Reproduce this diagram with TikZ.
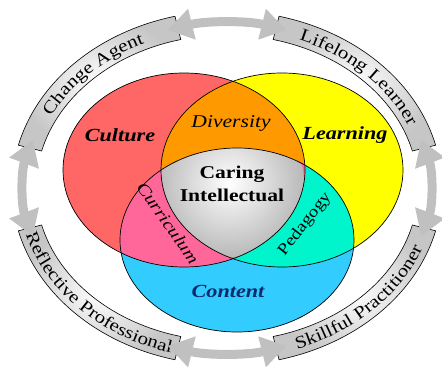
\documentclass[tikz,border=0pt]{standalone}
\usepackage{fontspec}
\setmainfont{Liberation Serif}
\newfontfamily\wide[FakeStretch=1.2]{Liberation Serif}
\usetikzlibrary{arrows.meta,decorations.text}

\definecolor{culture}{HTML}{FF6666}
\definecolor{learning}{HTML}{FFFF00}
\definecolor{content}{HTML}{33CCFF}
\definecolor{diversity}{HTML}{FF9900}
\definecolor{curriculum}{HTML}{FF6699}
\definecolor{pedagogy}{HTML}{00F5CC}
\definecolor{contentink}{HTML}{0B2A6B}
\definecolor{ringgray}{HTML}{C0C0C0}

\newcommand\bandfont{\wide\fontsize{17.5}{17.5}\selectfont}

\tikzset{
  lbl/.style={font=\wide\fontsize{18}{21}\selectfont, inner sep=0pt},
  band/.style={draw=black, line width=0.6pt, inner color=white, outer color=gray!45},
  ringarrow/.style={ringgray, line width=9pt,
    {Triangle[width=30pt,length=25pt]}-{Triangle[width=30pt,length=25pt]}},
  rim/.style={draw=black, line width=0.7pt},
}

\begin{document}
\begin{tikzpicture}[x=1pt,y=1pt]
    \useasboundingbox (0,0) rectangle (442,368);
    \coordinate (ring) at (227,180);
    \coordinate (cul) at (184,198);
    \coordinate (lea) at (282,198);
    \coordinate (con) at (237,128);

    % the three sets
    \fill[culture] (cul) ellipse [x radius=121pt, y radius=97pt];
    \fill[learning] (lea) ellipse [x radius=121pt, y radius=97pt];
    \fill[content] (con) ellipse [x radius=117pt, y radius=92pt];
    \begin{scope}
        \clip (lea) ellipse [x radius=121pt, y radius=97pt];
        \fill[pedagogy] (con) ellipse [x radius=117pt, y radius=92pt];
    \end{scope}
    \begin{scope}
        \clip (cul) ellipse [x radius=121pt, y radius=97pt];
        \fill[diversity] (lea) ellipse [x radius=121pt, y radius=97pt];
        \fill[curriculum] (con) ellipse [x radius=117pt, y radius=92pt];
        \clip (lea) ellipse [x radius=121pt, y radius=97pt];
        \clip (con) ellipse [x radius=117pt, y radius=92pt];
        \shade[inner color=white, outer color=gray!55] (230,185) circle (74pt);
    \end{scope}
    \draw[rim] (cul) ellipse [x radius=121pt, y radius=97pt];
    \draw[rim] (lea) ellipse [x radius=121pt, y radius=97pt];
    \draw[rim] (con) ellipse [x radius=117pt, y radius=92pt];

    \node[lbl, font=\wide\fontsize{18.5}{21}\selectfont\bfseries\itshape] (culture) at (120,233) {Culture};
    \node[lbl, font=\wide\fontsize{18.5}{21}\selectfont\bfseries\itshape] (learning) at (345,233) {Learning};
    \node[lbl, font=\wide\fontsize{18.5}{21}\selectfont\bfseries\itshape, text=contentink] (content) at (228,77) {Content};
    \node[lbl, font=\wide\fontsize{18}{21}\selectfont\itshape] (diversity) at (231,245) {Diversity};
    \node[lbl, font=\wide\fontsize{17}{21}\selectfont\itshape, rotate=-55] (curriculum) at (168,145) {Curriculum};
    \node[lbl, font=\wide\fontsize{16}{21}\selectfont, rotate=52] (pedagogy) at (305,144) {Pedagogy};
    \node[lbl, font=\wide\fontsize{18}{22.5}\selectfont\bfseries, align=center] (caring) at (232,184) {Caring\\Intellectual};

    % the ring of roles
    \foreach \a in {45, 135, 225, 315} {
        \shade[band] ([shift={(ring)}]\a+31:215pt and 177pt)
            arc[start angle=\a+31, end angle=\a-31, x radius=215pt, y radius=177pt]
            -- ([shift={(ring)}]\a-31:191pt and 153pt)
            arc[start angle=\a-31, end angle=\a+31, x radius=191pt, y radius=153pt] -- cycle;
    }
    \path[decorate, decoration={text along path, text align=center, text={|\bandfont|Change Agent}}]
        ([shift={(ring)}]166:197pt and 159pt) arc[start angle=166, end angle=104, x radius=197pt, y radius=159pt];
    \path[decorate, decoration={text along path, text align=center, text={|\bandfont|Lifelong Learner}}]
        ([shift={(ring)}]76:197pt and 159pt) arc[start angle=76, end angle=14, x radius=197pt, y radius=159pt];
    \path[decorate, decoration={text along path, text align=center, text={|\bandfont|Reflective Professional}}]
        ([shift={(ring)}]194:209pt and 171pt) arc[start angle=194, end angle=256, x radius=209pt, y radius=171pt];
    \path[decorate, decoration={text along path, text align=center, text={|\bandfont|Skillful Practitioner}}]
        ([shift={(ring)}]284:209pt and 171pt) arc[start angle=284, end angle=346, x radius=209pt, y radius=171pt];

    \foreach \a in {0, 90, 180, 270} {
        \draw[ringarrow] ([shift={(ring)}]\a+17:203pt and 165pt)
            arc[start angle=\a+17, end angle=\a-17, x radius=203pt, y radius=165pt];
    }
\end{tikzpicture}
\end{document}
